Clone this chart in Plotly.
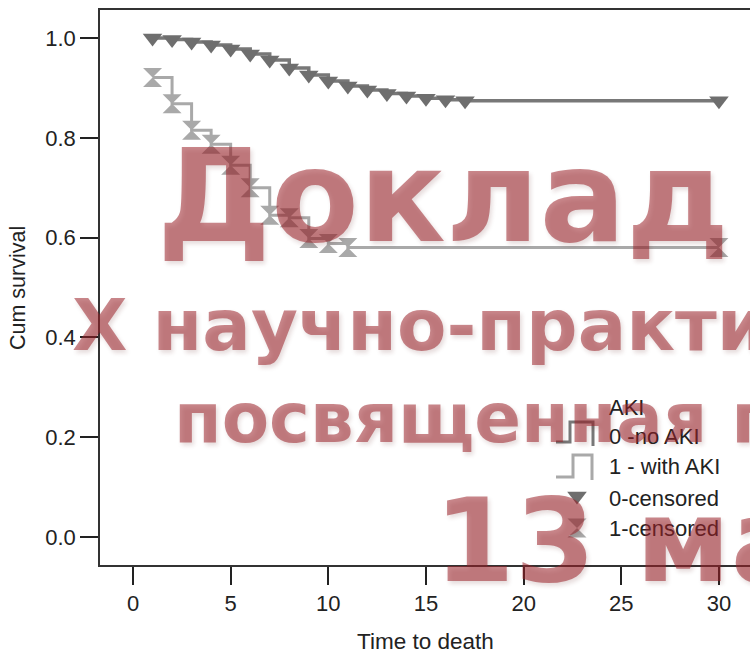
import plotly.graph_objects as go

W, H = 750, 653

# Kaplan-Meier survival estimates by AKI group (time in days)
time_no_aki = [1, 2, 3, 4, 5, 6, 7, 8, 9, 10, 11, 12, 13, 14, 15, 16, 17, 30]
surv_no_aki = [1.000, 0.997, 0.992, 0.986, 0.978, 0.968, 0.956, 0.940, 0.926,
               0.914, 0.904, 0.896, 0.889, 0.884, 0.879, 0.876, 0.874, 0.874]

time_aki = [1, 2, 3, 4, 5, 6, 7, 8, 9, 10, 11, 30]
surv_aki = [0.921, 0.868, 0.815, 0.787, 0.745, 0.700, 0.645, 0.640, 0.598,
            0.588, 0.580, 0.580]

x_ticks = [0, 5, 10, 15, 20, 25, 30]
y_ticks = [0.0, 0.2, 0.4, 0.6, 0.8, 1.0]
y_tick_labels = ["0.0", "0.2", "0.4", "0.6", "0.8", "1.0"]

x_title = "Time to death"
y_title = "Cum survival"
legend_title = "AKI"
legend_labels = ["0 -no AKI", "1 - with AKI", "0-censored", "1-censored"]

banner_lines = ["Доклад",
                "X научно-практической конференции",
                "посвященная памяти",
                "13 марта"]

DARK_LINE = "#787878"
DARK_MARK = "#6e6e6e"
LIGHT = "#a9a9a9"
TEXT = "#222222"
AXIS_FONT = "Liberation Sans, Arial, Helvetica, sans-serif"
BANNER_FONT = "DejaVu Sans, Verdana, sans-serif"
BANNER_COLOR = "rgba(155,34,40,0.54)"
BANNER_SHADOW = "2px 3px 4px rgba(90,20,20,0.28)"

fig = go.Figure()

# survival step curves
fig.add_trace(go.Scatter(x=time_no_aki, y=surv_no_aki, mode="lines",
                         line=dict(shape="hv", color=DARK_LINE, width=3.5),
                         hoverinfo="skip"))
fig.add_trace(go.Scatter(x=time_aki, y=surv_aki, mode="lines",
                         line=dict(shape="hv", color=LIGHT, width=3),
                         hoverinfo="skip"))
# censoring marks
fig.add_trace(go.Scatter(x=time_no_aki, y=surv_no_aki, mode="markers",
                         marker=dict(symbol="triangle-down", size=17, color=DARK_MARK),
                         hoverinfo="skip"))
fig.add_trace(go.Scatter(x=time_aki, y=surv_aki, mode="markers",
                         marker=dict(symbol="hourglass", size=19, color=LIGHT),
                         hoverinfo="skip"))

# legend block drawn in pixel space (x2 / y2 span the whole canvas)
LEG_X = 607
leg_y = [407, 436, 466, 498, 528]
ICON_X = 577
fig.add_trace(go.Scatter(x=[ICON_X], y=[leg_y[3] - 2], xaxis="x2", yaxis="y2",
                         mode="markers",
                         marker=dict(symbol="triangle-down", size=17, color=DARK_MARK),
                         hoverinfo="skip"))
fig.add_trace(go.Scatter(x=[ICON_X], y=[leg_y[4]], xaxis="x2", yaxis="y2",
                         mode="markers",
                         marker=dict(symbol="hourglass", size=19, color=LIGHT),
                         hoverinfo="skip"))

shapes = [
    dict(type="path", xref="x2", yref="y2",
         path=f"M556,{leg_y[1]+6} H570 V{leg_y[1]-14} H593 V{leg_y[1]+10}",
         line=dict(color=DARK_LINE, width=3)),
    dict(type="path", xref="x2", yref="y2",
         path=f"M556,{leg_y[2]+11} H573 V{leg_y[2]-11} H592 V{leg_y[2]+14}",
         line=dict(color=LIGHT, width=3)),
]

annotations = []
for label, yy in zip([legend_title] + legend_labels, leg_y):
    annotations.append(dict(x=LEG_X, y=yy, xref="x2", yref="y2", text=label,
                            showarrow=False, xanchor="left", yanchor="middle",
                            font=dict(family=AXIS_FONT, size=22, color=TEXT)))

# axis titles
annotations.append(dict(x=425, y=641, xref="x2", yref="y2", text=x_title,
                        showarrow=False, xanchor="center", yanchor="middle",
                        font=dict(family=AXIS_FONT, size=22.5, color=TEXT)))
annotations.append(dict(x=18, y=288, xref="x2", yref="y2", text=y_title,
                        showarrow=False, textangle=-90, xanchor="center",
                        yanchor="middle",
                        font=dict(family=AXIS_FONT, size=21.5, color=TEXT)))

# overlaid banner text
banner_pos = [(155, 196, 128), (70, 325, 72), (172, 418, 69), (432, 540, 116)]
for txt, (bx, by, bs) in zip(banner_lines, banner_pos):
    annotations.append(dict(x=bx, y=by, xref="x2", yref="y2", text=txt,
                            showarrow=False, xanchor="left", yanchor="middle",
                            font=dict(family=BANNER_FONT, size=bs, color=BANNER_COLOR,
                                      weight="bold", shadow=BANNER_SHADOW)))

tick_font = dict(family=AXIS_FONT, size=22, color=TEXT)

fig.update_layout(
    width=W, height=H,
    margin=dict(l=0, r=0, t=0, b=0),
    paper_bgcolor="white",
    plot_bgcolor="rgba(0,0,0,0)",
    showlegend=False,
    xaxis=dict(domain=[100 / W, 1.0], range=[-1.69, 31.59], tickvals=x_ticks,
               ticks="outside", ticklen=18, tickwidth=2, tickcolor=TEXT,
               showline=True, linewidth=1.5, linecolor="#333333", mirror=True,
               showgrid=False, zeroline=False, tickfont=tick_font,
               automargin=False, anchor="y"),
    yaxis=dict(domain=[1 - 565 / H, 1 - 10 / H], range=[-0.0561, 1.0561],
               tickvals=y_ticks, ticktext=y_tick_labels,
               ticks="outside", ticklen=18, tickwidth=2, tickcolor=TEXT,
               showline=True, linewidth=1.5, linecolor="#333333",
               showgrid=False, zeroline=False, tickfont=tick_font,
               automargin=False, anchor="x"),
    xaxis2=dict(domain=[0, 1], range=[0, W], visible=False, anchor="y2",
                fixedrange=True),
    yaxis2=dict(domain=[0, 1], range=[H, 0], visible=False, anchor="x2",
                fixedrange=True),
    shapes=shapes,
    annotations=annotations,
)

fig.write_html("out.html")
